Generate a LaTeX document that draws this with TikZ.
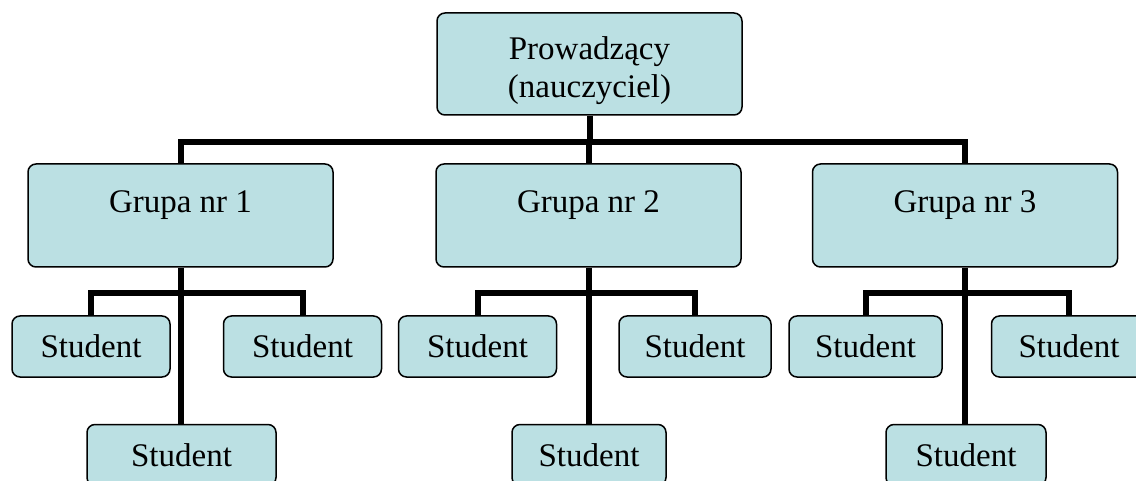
\documentclass[tikz,border=0pt]{standalone}
\usepackage{fontspec}
\setmainfont{Liberation Serif}
\usetikzlibrary{positioning}
\definecolor{boxfill}{RGB}{187,224,227}
\tikzset{
	box/.style={draw=black, line width=1.5pt, fill=boxfill, rounded corners=8pt, inner sep=0pt, font=\fontsize{33}{38}\selectfont},
	grp/.style={box, minimum width=305pt, minimum height=103pt},
	stud/.style={box, minimum width=158pt, minimum height=61pt},
	lbl/.style={font=\fontsize{33}{38}\selectfont},
	conn/.style={line width=6pt},
}
\begin{document}
\begin{tikzpicture}[x=1pt,y=1pt]
		\useasboundingbox (0,0) rectangle (1136,-481);
		\clip (0,0) rectangle (1136,-481);
		% boxes
		\node[box, minimum width=305pt, minimum height=102pt] (prow) at (589.5,-64) {};
		\node[lbl, align=center] (prowt) at ([yshift=-7pt]prow.center) {Prowadzący\\(nauczyciel)};
		\node[grp] (g1) at (180.5,-215.5) {};
		\node[grp] (g2) at (588.5,-215.5) {};
		\node[grp] (g3) at (965,-215.5) {};
		\node[lbl] (g1t) at ([yshift=-42pt]g1.north) {Grupa nr 1};
		\node[lbl] (g2t) at ([yshift=-42pt]g2.north) {Grupa nr 2};
		\node[lbl] (g3t) at ([yshift=-42pt]g3.north) {Grupa nr 3};
		\node[stud] (g1l) at (91,-346.5) {Student};
		\node[stud] (g1r) at (302.5,-346.5) {Student};
		\node[stud, minimum width=189pt] (g1b) at (181.5,-455) {Student};
		\node[stud] (g2l) at (477.5,-346.5) {Student};
		\node[stud, minimum width=152pt] (g2r) at (695,-346.5) {Student};
		\node[stud, minimum width=154pt] (g2b) at (589,-455) {Student};
		\node[stud, minimum width=153pt] (g3l) at (865.5,-346.5) {Student};
		\node[stud, minimum width=155pt] (g3r) at (1069,-346.5) {Student};
		\node[stud, minimum width=160pt] (g3b) at (966,-455) {Student};
		% connectors
		\coordinate (hub) at (589.5,-142);
		\draw[conn] (prow.south) -- (hub);
		\draw[conn] (hub) -| (g1.north);
		\draw[conn] (hub) -| (g2.north);
		\draw[conn] (hub) -| (g3.north);
		\draw[conn] (g1l.north) |- ([yshift=-25pt]g1.south) -| (g1r.north);
		\draw[conn] (g2l.north) |- ([yshift=-25pt]g2.south) -| (g2r.north);
		\draw[conn] (g3l.north) |- ([yshift=-25pt]g3.south) -| (g3r.north);
		\draw[conn] (g1.south) -- (g1.south |- g1b.north);
		\draw[conn] (g2.south) -- (g2.south |- g2b.north);
		\draw[conn] (g3.south) -- (g3.south |- g3b.north);
\end{tikzpicture}
\end{document}
